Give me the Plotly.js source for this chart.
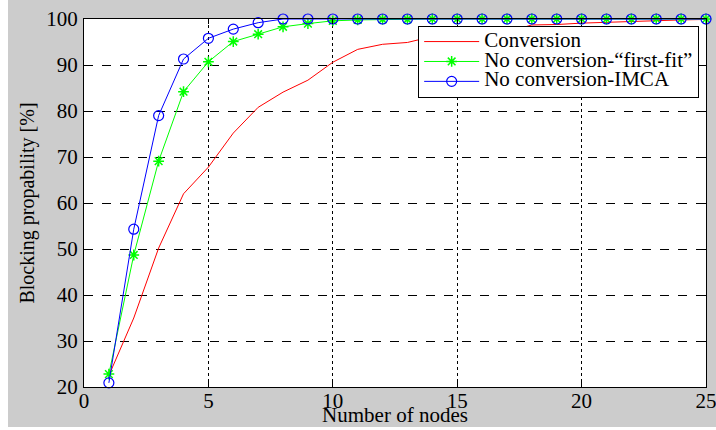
<!DOCTYPE html>
<html>
<head>
<meta charset="utf-8">
<script src="https://cdn.plot.ly/plotly-3.0.1.min.js"></script>
<style>
  html, body { margin: 0; padding: 0; background: #ffffff; }
  #chart { position: absolute; left: 8px; top: 0; width: 708px; height: 427px; }
</style>
</head>
<body>
<div id="chart"></div>
<script>
// Number of nodes on the path
const nodes = [1, 2, 3, 4, 5, 6, 7, 8, 9, 10, 11, 12, 13, 14, 15, 16, 17, 18, 19, 20, 21, 22, 23, 24, 25];

// Blocking probability [%] for each scheme
const conversion = [22.5, 35, 50.2, 62, 67.8, 75.2, 80.8, 84.1, 86.7, 90.6, 93.4, 94.5, 94.9, 96.2, 96.6, 96.9, 97.2, 98.7, 98.8, 99.1, 99.3, 99.5, 99.7, 99.8, 99.9];
const firstFit   = [22.8, 48.7, 69.1, 84.2, 90.7, 95.1, 96.7, 98.3, 99.0, 99.6, 99.8, 99.9, 99.9, 100, 100, 100, 100, 100, 100, 100, 100, 100, 100, 100, 100];
const imca       = [20.9, 54.3, 79.0, 91.3, 95.8, 97.8, 99.2, 100, 100, 100, 100, 100, 100, 100, 100, 100, 100, 100, 100, 100, 100, 100, 100, 100, 100];

const seriesNames = ['Conversion', 'No conversion-\u201cfirst-fit\u201d', 'No conversion-IMCA'];
const xTicks = [0, 5, 10, 15, 20, 25];
const yTicks = [20, 30, 40, 50, 60, 70, 80, 90, 100];

const serif = 'Liberation Serif, Times New Roman, serif';

// Legend rows are spaced by the small base font; the label itself is drawn larger.
const legendLabel = name => '<span style="font-size:21px">' + name + '</span>';

const traces = [
  {
    x: nodes, y: conversion, name: legendLabel(seriesNames[0]),
    type: 'scatter', mode: 'lines',
    line: { color: '#ff0000', width: 1 },
    cliponaxis: false
  },
  {
    x: nodes, y: firstFit, name: legendLabel(seriesNames[1]),
    type: 'scatter', mode: 'lines+markers',
    line: { color: '#00ff00', width: 1 },
    marker: { symbol: 'asterisk-open', size: 9, color: '#00ff00', line: { color: '#00ff00', width: 1.5 } },
    cliponaxis: false
  },
  {
    x: nodes, y: imca, name: legendLabel(seriesNames[2]),
    type: 'scatter', mode: 'lines+markers',
    line: { color: '#0000ff', width: 1 },
    marker: { symbol: 'circle-open', size: 10, color: '#0000ff', line: { color: '#0000ff', width: 1.2 } },
    cliponaxis: false
  }
];

const axisCommon = {
  showline: true, linecolor: '#000000', linewidth: 1, mirror: 'ticks',
  ticks: 'inside', ticklen: 5, tickcolor: '#000000',
  showgrid: true, gridcolor: '#000000', gridwidth: 1,
  zeroline: false, ticklabeloverflow: 'allow',
  tickfont: { family: serif, size: 21, color: '#000000' }
};

const layout = {
  width: 708, height: 427,
  paper_bgcolor: '#cccccc', plot_bgcolor: '#ffffff',
  margin: { l: 76, r: 10, t: 19, b: 40 },
  showlegend: true,
  xaxis: Object.assign({}, axisCommon, {
    range: [0, 25], tickvals: xTicks, ticktext: xTicks.map(String),
    griddash: 'dot', ticklabelstandoff: -5,
    title: { text: 'Number of nodes', font: { family: serif, size: 21, color: '#000000' } }
  }),
  yaxis: Object.assign({}, axisCommon, {
    range: [20, 100], tickvals: yTicks, ticktext: yTicks.map(String),
    griddash: 'dash', ticklabelstandoff: 1,
    title: { text: 'Blocking propability [%]', font: { family: serif, size: 20, color: '#000000' } }
  }),
  legend: {
    x: 0.989, y: 0.982, xanchor: 'right', yanchor: 'top',
    bgcolor: '#ffffff', bordercolor: '#000000', borderwidth: 1,
    font: { family: serif, size: 13, color: '#000000' },
    tracegroupgap: 0, itemwidth: 55
  }
};

Plotly.newPlot('chart', traces, layout, { displayModeBar: false, staticPlot: true });
</script>
</body>
</html>
